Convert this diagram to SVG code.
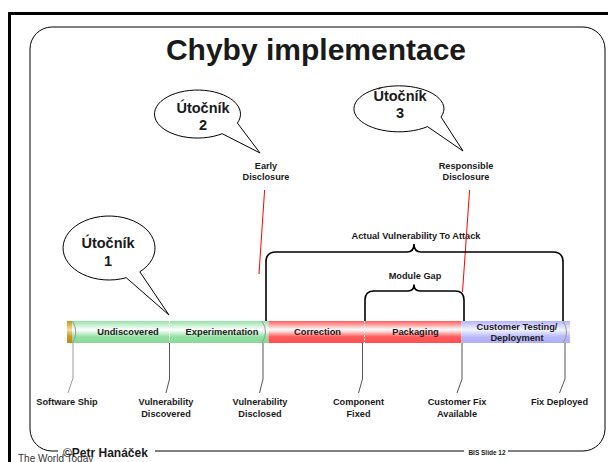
<svg xmlns="http://www.w3.org/2000/svg" width="608" height="462" viewBox="0 0 608 462">
<style>
.t{font-family:"Liberation Sans",Arial,sans-serif;font-weight:bold;fill:#1a1a1a}
.lbl{font-size:9.2px;text-anchor:middle}
.bar{font-size:9.3px;text-anchor:middle;fill:#222}
.bub{font-size:14.5px;text-anchor:middle}
.bubble{fill:#fff;stroke:#000;stroke-width:1}
.frame{fill:none;stroke:#000;stroke-width:1}
.brace{fill:none;stroke:#000;stroke-width:1.6}
.red{stroke:#ff0000;stroke-width:1;fill:none}
.tick{fill:none;stroke:#555;stroke-width:1}
.paren{fill:none;stroke:#999;stroke-width:1}
</style>
<defs>
<linearGradient id="gG" x1="0" y1="0" x2="0" y2="1">
<stop offset="0" stop-color="#94e2a6"/><stop offset="0.4" stop-color="#ffffff"/><stop offset="0.72" stop-color="#92e0a2"/><stop offset="1" stop-color="#88d898"/>
</linearGradient>
<linearGradient id="gR" x1="0" y1="0" x2="0" y2="1">
<stop offset="0" stop-color="#ff5c5c"/><stop offset="0.4" stop-color="#ffffff"/><stop offset="0.72" stop-color="#ff5a5a"/><stop offset="1" stop-color="#ff5050"/>
</linearGradient>
<linearGradient id="gB" x1="0" y1="0" x2="0" y2="1">
<stop offset="0" stop-color="#b4b4ff"/><stop offset="0.4" stop-color="#f4f4ff"/><stop offset="0.72" stop-color="#b8b8fc"/><stop offset="1" stop-color="#aeaef6"/>
</linearGradient>
<linearGradient id="gY" x1="0" y1="0" x2="0" y2="1">
<stop offset="0" stop-color="#c8961e"/><stop offset="0.4" stop-color="#f2dca0"/><stop offset="0.72" stop-color="#c8961e"/><stop offset="1" stop-color="#c08c18"/>
</linearGradient>
</defs>

<g id="frame">
<path d="M9.5,470 V13.5 H620" fill="none" stroke="#000" stroke-width="3"/>
<path class="frame" d="M58,451 H52 A22,22 0 0 1 30,429 V49 A22,22 0 0 1 52,27 H583 A22,22 0 0 1 605,49 V429 A22,22 0 0 1 583,451 H508"/>
<path class="frame" d="M155,451 H464"/>
<text class="t" x="316" y="60" font-size="30" text-anchor="middle" fill="#000">Chyby implementace</text>
<text class="t" x="63" y="457" font-size="12">©Petr Hanáček</text>
<text x="18" y="462" font-family="'Liberation Sans',Arial,sans-serif" font-size="10" fill="#333">The World Today</text>
<text class="t" x="487" y="454.5" font-size="6.5" text-anchor="middle">BIS Slide 12</text>
</g>

<g id="bubble1">
<path class="bubble" d="M139.8,271.8 A46,32 0 1 0 126.2,277.7 L169,315 Z"/>
<text class="t bub" x="108" y="248">Útočník</text>
<text class="t bub" x="108" y="266">1</text>
</g>
<g id="bubble2">
<path class="bubble" d="M237.4,123 A43,24 0 1 0 222.2,133.7 L260,153 Z"/>
<text class="t bub" x="203" y="113">Útočník</text>
<text class="t bub" x="203" y="129.5">2</text>
</g>
<g id="bubble3">
<path class="bubble" d="M441,117 A45,23 0 1 0 427.5,126.6 L463,151 Z"/>
<text class="t bub" x="400" y="101">Útočník</text>
<text class="t bub" x="400" y="117.5">3</text>
</g>

<g id="early">
<text class="t lbl" x="266" y="169">Early</text>
<text class="t lbl" x="266" y="180">Disclosure</text>
</g>
<g id="responsible">
<text class="t lbl" x="466" y="169">Responsible</text>
<text class="t lbl" x="466" y="180">Disclosure</text>
</g>
<g id="actual">
<text class="t lbl" x="416" y="238.5">Actual Vulnerability To Attack</text>
</g>
<g id="modulegap">
<text class="t lbl" x="415" y="279">Module Gap</text>
</g>

<g id="connectors">
<path class="red" d="M264.6,190 L259,274"/>
<path class="red" d="M469.6,190 L462.5,292"/>
<path class="brace" d="M266,321 V262 Q266,252 276,252 H407 Q414,252 414,244 Q414,252 421,252 H553 Q563,252 563,262 V321"/>
<path class="brace" d="M365,321 V300 Q365,291 374,291 H408 Q414,291 414,284.5 Q414,291 420,291 H455 Q464,291 464,300 V321"/>
<path class="tick" style="stroke:#9a9a9a" d="M73,343 V378 L68,393"/>
<path class="tick" d="M169.5,343 V379 L166,393"/>
<path class="tick" d="M263,343 V379 L259.5,393"/>
<path class="tick" d="M362.5,343 V379 L358.5,393"/>
<path class="tick" d="M462,343 V379 L457,393"/>
<path class="tick" d="M565,343 V379 L559.5,393"/>
</g>

<g id="bar">
<rect x="67" y="321" width="5" height="22" fill="url(#gY)"/>
<rect x="72" y="321" width="196.5" height="22" fill="url(#gG)"/>
<rect x="268.5" y="321" width="193" height="22" fill="url(#gR)"/>
<rect x="461.5" y="321" width="108.5" height="22" fill="url(#gB)"/>
<path class="paren" d="M72.5,321 Q79,332 72.5,343"/>
<path class="paren" d="M262,321 Q269,332 262,343"/>
<path class="paren" d="M563,321 Q570,332 563,343"/>
<path d="M169.5,321 V343 M364.5,321 V343" stroke="#fff" stroke-width="1" stroke-dasharray="2,1.5"/>
<text class="t bar" x="128" y="335">Undiscovered</text>
<text class="t bar" x="222" y="335">Experimentation</text>
<text class="t bar" x="317.5" y="335">Correction</text>
<text class="t bar" x="415.5" y="335">Packaging</text>
<text class="t bar" x="517" y="330">Customer Testing/</text>
<text class="t bar" x="517" y="341">Deployment</text>
</g>

<g id="labels">
<text class="t lbl" x="67" y="405">Software Ship</text>
<text class="t lbl" x="166" y="405">Vulnerability</text>
<text class="t lbl" x="166" y="416.5">Discovered</text>
<text class="t lbl" x="260" y="405">Vulnerability</text>
<text class="t lbl" x="260" y="416.5">Disclosed</text>
<text class="t lbl" x="358.5" y="405">Component</text>
<text class="t lbl" x="358.5" y="416.5">Fixed</text>
<text class="t lbl" x="457" y="405">Customer Fix</text>
<text class="t lbl" x="457" y="416.5">Available</text>
<text class="t lbl" x="559.5" y="405">Fix Deployed</text>
</g>
</svg>
